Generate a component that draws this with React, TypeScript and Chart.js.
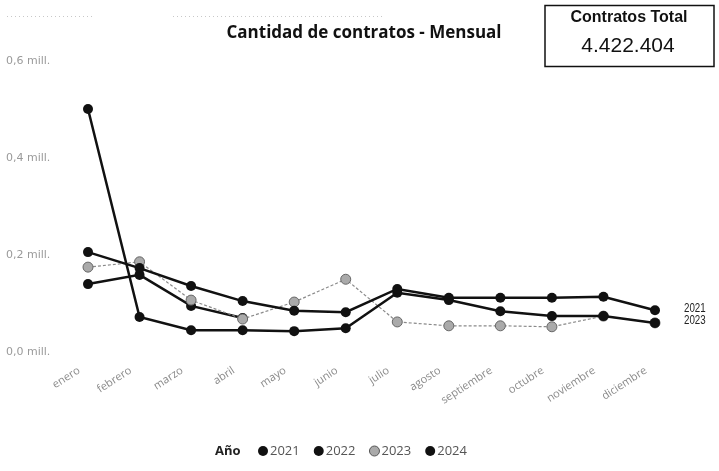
import React, { useEffect, useRef } from 'react';
import { Chart, registerables } from 'chart.js';

Chart.register(...registerables);

const months = ['enero', 'febrero', 'marzo', 'abril', 'mayo', 'junio', 'julio', 'agosto', 'septiembre', 'octubre', 'noviembre', 'diciembre'];
const years = ['2021', '2022', '2023', '2024'];
const s2021 = [0.206, 0.173, 0.136, 0.105, 0.085, 0.082, 0.130, 0.112, 0.112, 0.112, 0.114, 0.086];
const s2022 = [0.501, 0.072, 0.045, 0.045, 0.043, 0.049, 0.122, 0.107, 0.084, 0.074, 0.074, 0.060];
const s2023 = [0.175, 0.186, 0.107, 0.068, 0.103, 0.150, 0.062, 0.054, 0.054, 0.052, 0.074, 0.060];
const s2024 = [0.140, 0.159, 0.095, 0.070, null, null, null, null, null, null, null, null];
const yTicks = [0, 0.2, 0.4, 0.6];
const yTickLabels = ['0,0 mill.', '0,2 mill.', '0,4 mill.', '0,6 mill.'];
const titleText = 'Cantidad de contratos - Mensual';
const kpiLabel = 'Contratos Total';
const kpiValue = '4.422.404';
const legendTitle = 'Año';
const endLabelYears = ['2021', '2023'];

const seriesValues = [s2021, s2022, s2023, s2024];

const extrasPlugin = {
  id: 'extras',
  afterDraw(chart: any) {
    const ctx = chart.ctx as CanvasRenderingContext2D;
    ctx.save();
    // faint dotted artefacts at top
    ctx.strokeStyle = '#c8c8c8';
    ctx.lineWidth = 1;
    ctx.setLineDash([1, 3]);
    ctx.beginPath();
    ctx.moveTo(7, 16.5); ctx.lineTo(93, 16.5);
    ctx.moveTo(173, 16.5); ctx.lineTo(383, 16.5);
    ctx.stroke();
    ctx.setLineDash([]);

    // title
    ctx.fillStyle = '#111';
    ctx.font = 'bold 17px "Open Sans", sans-serif';
    ctx.textAlign = 'center';
    ctx.textBaseline = 'middle';
    ctx.fillText(titleText, 364, 33);

    // KPI box
    ctx.strokeStyle = '#111';
    ctx.lineWidth = 1.5;
    ctx.strokeRect(545, 5.5, 169, 61);
    ctx.fillStyle = '#111';
    ctx.font = 'bold 16px "Liberation Sans", Arial, sans-serif';
    ctx.fillText(kpiLabel, 629, 18);
    ctx.font = '21px "Liberation Sans", Arial, sans-serif';
    ctx.fillText(kpiValue, 628, 46);

    // end labels (narrow)
    ctx.font = '13px "Liberation Sans", sans-serif';
    ctx.textAlign = 'left';
    ctx.fillStyle = '#222';
    endLabelYears.forEach((yr) => {
      const di = years.indexOf(yr);
      const pts = chart.getDatasetMeta(di).data;
      const last = pts[pts.length - 1];
      ctx.save();
      ctx.translate(684, last.y - 2);
      ctx.scale(0.75, 1);
      ctx.fillText(yr, 0, 0);
      ctx.restore();
    });

    // legend
    const ly = 451;
    ctx.font = 'bold 13px "Open Sans", sans-serif';
    ctx.fillStyle = '#222';
    ctx.textAlign = 'left';
    ctx.fillText(legendTitle, 215, ly);
    let x = 258;
    ctx.font = '13px "Open Sans", sans-serif';
    years.forEach((yr, i) => {
      const ds = chart.data.datasets[i];
      ctx.beginPath();
      ctx.arc(x + 5, ly, 5, 0, Math.PI * 2);
      ctx.fillStyle = ds.pointBackgroundColor;
      ctx.fill();
      if (i === 2) {
        ctx.strokeStyle = '#555';
        ctx.lineWidth = 1;
        ctx.stroke();
      }
      ctx.fillStyle = '#555';
      ctx.fillText(yr, x + 12, ly);
      x += 12 + ctx.measureText(yr).width + 14;
    });
    ctx.restore();
  },
};

export default function App() {
  const ref = useRef<HTMLCanvasElement>(null);
  useEffect(() => {
    document.body.style.margin = '0';
    const colors = ['#111', '#111', '#8a8a8a', '#111'];
    const datasets = seriesValues.map((vals, i) => ({
      label: years[i],
      data: vals,
      borderColor: colors[i],
      backgroundColor: colors[i],
      pointBackgroundColor: i === 2 ? '#aaa' : '#111',
      pointBorderColor: i === 2 ? '#666' : '#111',
      pointBorderWidth: i === 2 ? 1 : 0,
      pointRadius: 5,
      borderWidth: i === 2 ? 1.2 : 2.5,
      borderDash: i === 2 ? [3, 2] : [],
      tension: 0,
      spanGaps: false,
    }));
    const chart = new Chart(ref.current!, {
      type: 'line',
      data: { labels: months, datasets: datasets as any },
      options: {
        animation: false,
        responsive: false,
        layout: { padding: { left: 6, right: 64, top: 61, bottom: 0 } },
        plugins: { legend: { display: false }, title: { display: false }, tooltip: { enabled: false } },
        scales: {
          x: {
            offset: false,
            grid: { display: false },
            border: { display: false },
            ticks: {
              color: '#8a8a8a',
              font: { family: '"Open Sans", sans-serif', size: 11 },
              minRotation: 33,
              maxRotation: 33,
              autoSkip: false,
              padding: 4,
              labelOffset: -9,
            },
            afterFit(scale: any) { scale.height = 119; },
          },
          y: {
            min: 0,
            max: 0.6,
            grid: { display: false },
            border: { display: false },
            afterBuildTicks(scale: any) { scale.ticks = yTicks.map((v) => ({ value: v })); },
            ticks: {
              color: '#9a9a9a',
              crossAlign: 'far',
              font: { family: '"DejaVu Sans", sans-serif', size: 11 },
              callback: (v: any) => {
                const idx = yTicks.findIndex((t) => Math.abs(t - Number(v)) < 1e-9);
                return idx >= 0 ? yTickLabels[idx] : '';
              },
            },
            afterFit(scale: any) { scale.width = 82; },
          },
        },
      },
      plugins: [extrasPlugin],
    });
    return () => chart.destroy();
  }, []);
  return (
    <div style={{ position: 'fixed', left: 0, top: 0, width: 719, height: 471, background: '#fff' }}>
      <canvas ref={ref} width={719} height={471} style={{ width: 719, height: 471, display: 'block' }} />
    </div>
  );
}
